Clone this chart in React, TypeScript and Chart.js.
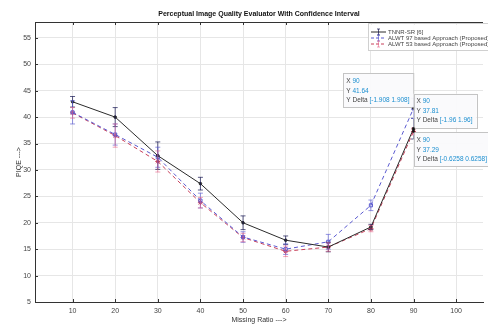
import { useEffect, useRef } from "react";
import { Chart, registerables } from "chart.js";
Chart.register(...registerables);

const missingRatio = [10, 20, 30, 40, 50, 60, 70, 80, 90];
const tnnrValues = [42.9, 40.0, 32.7, 27.4, 20.0, 16.7, 15.4, 19.2, 37.81];
const alwt97Values = [40.9, 36.7, 32.4, 24.2, 17.3, 15.0, 16.4, 23.3, 41.64];
const alwt53Values = [40.8, 36.5, 31.6, 23.8, 17.2, 14.6, 15.4, 18.9, 37.29];
const tnnrDelta = [1.0, 1.8, 2.6, 1.2, 1.3, 0.8, 0.9, 0.5, 1.96];
const alwt97Delta = [2.2, 2.0, 1.9, 1.4, 1.0, 1.0, 1.4, 1.0, 1.908];
const alwt53Delta = [1.0, 2.2, 2.0, 1.0, 0.8, 1.0, 0.8, 0.6, 0.6258];
const seriesLabels = [
  "TNNR-SR [6]",
  "ALWT 97 based Approach (Proposed)",
  "ALWT 53 based Approach (Proposed)",
];
const xTicks = [10, 20, 30, 40, 50, 60, 70, 80, 90, 100];
const yTicks = [5, 10, 15, 20, 25, 30, 35, 40, 45, 50, 55];

const FONT = "'Liberation Sans', Arial, sans-serif";
const lineColors = ["#2b2b2b", "#5a5ad0", "#c8405a"];
const barColors = ["rgba(20,20,80,0.7)", "rgba(90,90,210,0.65)", "rgba(230,90,130,0.55)"];
const deltas = [tnnrDelta, alwt97Delta, alwt53Delta];
const valuesAll = [tnnrValues, alwt97Values, alwt53Values];

// data tips: dataset index, point index, placement
const tips = [
  { ds: 1, idx: 8, place: "leftUp" },
  { ds: 0, idx: 8, place: "rightUp" },
  { ds: 2, idx: 8, place: "rightDown" },
];

const fmtDelta = (d: number) => `[-${d} ${d}]`;

const errorBarPlugin = {
  id: "errorBars",
  afterDatasetsDraw(chart: any) {
    const ctx = chart.ctx;
    const xs = chart.scales.x;
    const ys = chart.scales.y;
    ctx.save();
    ctx.lineWidth = 1;
    valuesAll.forEach((vals, si) => {
      ctx.strokeStyle = barColors[si];
      vals.forEach((v, j) => {
        const x = xs.getPixelForValue(missingRatio[j]);
        const yt = ys.getPixelForValue(v + deltas[si][j]);
        const yb = ys.getPixelForValue(v - deltas[si][j]);
        ctx.beginPath();
        ctx.moveTo(x, yt);
        ctx.lineTo(x, yb);
        ctx.moveTo(x - 2.5, yt);
        ctx.lineTo(x + 2.5, yt);
        ctx.moveTo(x - 2.5, yb);
        ctx.lineTo(x + 2.5, yb);
        ctx.stroke();
      });
    });
    ctx.restore();
  },
};

const framePlugin = {
  id: "frame",
  afterDraw(chart: any) {
    const ctx = chart.ctx;
    const a = chart.chartArea;
    const xs = chart.scales.x;
    const ys = chart.scales.y;
    ctx.save();
    ctx.strokeStyle = "#333";
    ctx.lineWidth = 1;
    ctx.beginPath();
    ctx.moveTo(a.left, a.top + 0.5);
    ctx.lineTo(a.right, a.top + 0.5);
    xTicks.forEach((t) => {
      const x = Math.round(xs.getPixelForValue(t)) + 0.5;
      ctx.moveTo(x, a.bottom);
      ctx.lineTo(x, a.bottom - 3);
      ctx.moveTo(x, a.top);
      ctx.lineTo(x, a.top + 3);
    });
    yTicks.forEach((t) => {
      const y = Math.round(ys.getPixelForValue(t)) + 0.5;
      ctx.moveTo(a.left, y);
      ctx.lineTo(a.left + 3, y);
    });
    ctx.stroke();

    // legend
    const lx = 368, ly = 23, lw = 130, lh = 27;
    ctx.fillStyle = "rgba(255,255,255,0.9)";
    ctx.fillRect(lx, ly, lw, lh);
    ctx.strokeStyle = "#d0d0d0";
    ctx.strokeRect(lx + 0.5, ly + 0.5, lw, lh);
    ctx.font = `6px ${FONT}`;
    ctx.textBaseline = "middle";
    seriesLabels.forEach((lab, i) => {
      const y = 32 + i * 6;
      ctx.strokeStyle = lineColors[i];
      ctx.setLineDash(i === 0 ? [] : [3, 2]);
      ctx.beginPath();
      ctx.moveTo(371, y);
      ctx.lineTo(386, y);
      ctx.stroke();
      ctx.setLineDash([]);
      ctx.strokeStyle = barColors[i];
      ctx.beginPath();
      ctx.moveTo(378.5, y - 3);
      ctx.lineTo(378.5, y + 3);
      ctx.moveTo(377, y - 3);
      ctx.lineTo(380, y - 3);
      ctx.moveTo(377, y + 3);
      ctx.lineTo(380, y + 3);
      ctx.stroke();
      ctx.fillStyle = "#444";
      ctx.fillText(lab, 388, y);
    });

    // data tips
    tips.forEach((tip) => {
      const v = valuesAll[tip.ds][tip.idx];
      const px = xs.getPixelForValue(missingRatio[tip.idx]);
      const py = ys.getPixelForValue(v);
      const lines = [
        ["X ", String(missingRatio[tip.idx])],
        ["Y ", String(v)],
        ["Y Delta ", fmtDelta(deltas[tip.ds][tip.idx])],
      ];
      ctx.font = `6.5px ${FONT}`;
      let w = 0;
      lines.forEach((l) => {
        w = Math.max(w, ctx.measureText(l[0] + l[1]).width);
      });
      w += 7;
      const h = 34;
      let bx = px, by = py;
      if (tip.place === "leftUp") { bx = px - w; by = py - h - 1; }
      if (tip.place === "rightUp") { bx = px; by = py - h - 1; }
      if (tip.place === "rightDown") { bx = px; by = py + 1; }
      ctx.fillStyle = "rgba(250,250,252,0.95)";
      ctx.fillRect(bx, by, w, h);
      ctx.strokeStyle = "#c4c4c4";
      ctx.strokeRect(Math.round(bx) + 0.5, Math.round(by) + 0.5, w, h);
      ctx.textBaseline = "middle";
      lines.forEach((l, k) => {
        const ty = by + 8 + k * 9.5;
        ctx.fillStyle = "#444";
        ctx.fillText(l[0], bx + 3, ty);
        const lw0 = ctx.measureText(l[0]).width;
        ctx.fillStyle = "#1c8fd0";
        ctx.fillText(l[1], bx + 3 + lw0, ty);
      });
      ctx.fillStyle = "#111";
      ctx.beginPath();
      ctx.arc(px, py, 1.3, 0, Math.PI * 2);
      ctx.fill();
    });
    ctx.restore();
  },
};

export default function App() {
  const ref = useRef<HTMLCanvasElement>(null);
  useEffect(() => {
    if (!ref.current) return;
    const mk = (arr: number[]) => arr.map((v, i) => ({ x: missingRatio[i], y: v }));
    const chart = new Chart(ref.current, {
      type: "line",
      data: {
        datasets: [
          {
            label: seriesLabels[0],
            data: mk(tnnrValues),
            borderColor: lineColors[0],
            backgroundColor: lineColors[0],
            borderWidth: 1,
            pointRadius: 1.3,
            pointStyle: "circle",
          },
          {
            label: seriesLabels[1],
            data: mk(alwt97Values),
            borderColor: lineColors[1],
            backgroundColor: "rgba(0,0,0,0)",
            borderWidth: 1,
            borderDash: [4, 3],
            pointRadius: 2.2,
            pointStyle: "rect",
            pointBorderColor: lineColors[1],
          },
          {
            label: seriesLabels[2],
            data: mk(alwt53Values),
            borderColor: lineColors[2],
            backgroundColor: "rgba(0,0,0,0)",
            borderWidth: 1,
            borderDash: [4, 3],
            pointRadius: 2.5,
            pointStyle: "star",
            pointBorderColor: lineColors[2],
          },
        ],
      },
      options: {
        animation: false,
        responsive: false,
        layout: { padding: 0 },
        plugins: {
          legend: { display: false },
          tooltip: { enabled: false },
          title: {
            display: true,
            text: "Perceptual Image Quality Evaluator With Confidence Interval",
            fullSize: false,
            color: "#111",
            font: { family: FONT, size: 7, weight: "bold" },
            padding: { top: 9.8, bottom: 3.8 },
          },
        },
        scales: {
          x: {
            type: "linear",
            min: 1.19,
            max: 106.3,
            afterBuildTicks: (s: any) => { s.ticks = xTicks.map((v) => ({ value: v })); },
            afterFit: (s: any) => { s.height = 22; },
            grid: { color: "#e6e6e6", drawTicks: false },
            border: { color: "#333" },
            ticks: { color: "#444", font: { family: FONT, size: 7 }, padding: 5, maxRotation: 0 },
            title: {
              display: true,
              text: "Missing Ratio --->",
              color: "#333",
              font: { family: FONT, size: 7 },
              padding: { top: 0, bottom: 0 },
            },
          },
          y: {
            type: "linear",
            min: 5,
            max: 58,
            afterBuildTicks: (s: any) => { s.ticks = yTicks.map((v) => ({ value: v })); },
            afterFit: (s: any) => { s.width = 35; },
            grid: { color: "#e6e6e6", drawTicks: false },
            border: { color: "#333" },
            ticks: { color: "#444", font: { family: FONT, size: 7 }, padding: 4 },
            title: {
              display: true,
              text: "PIQE --->",
              color: "#333",
              font: { family: FONT, size: 7 },
              padding: { top: 15, bottom: 0 },
            },
          },
        },
      },
      plugins: [errorBarPlugin, framePlugin],
    } as any);
    return () => chart.destroy();
  }, []);
  return (
    <div style={{ position: "fixed", left: 0, top: 0, width: 488, height: 324, background: "#fff" }}>
      <canvas ref={ref} width={488} height={324} style={{ display: "block" }} />
    </div>
  );
}
